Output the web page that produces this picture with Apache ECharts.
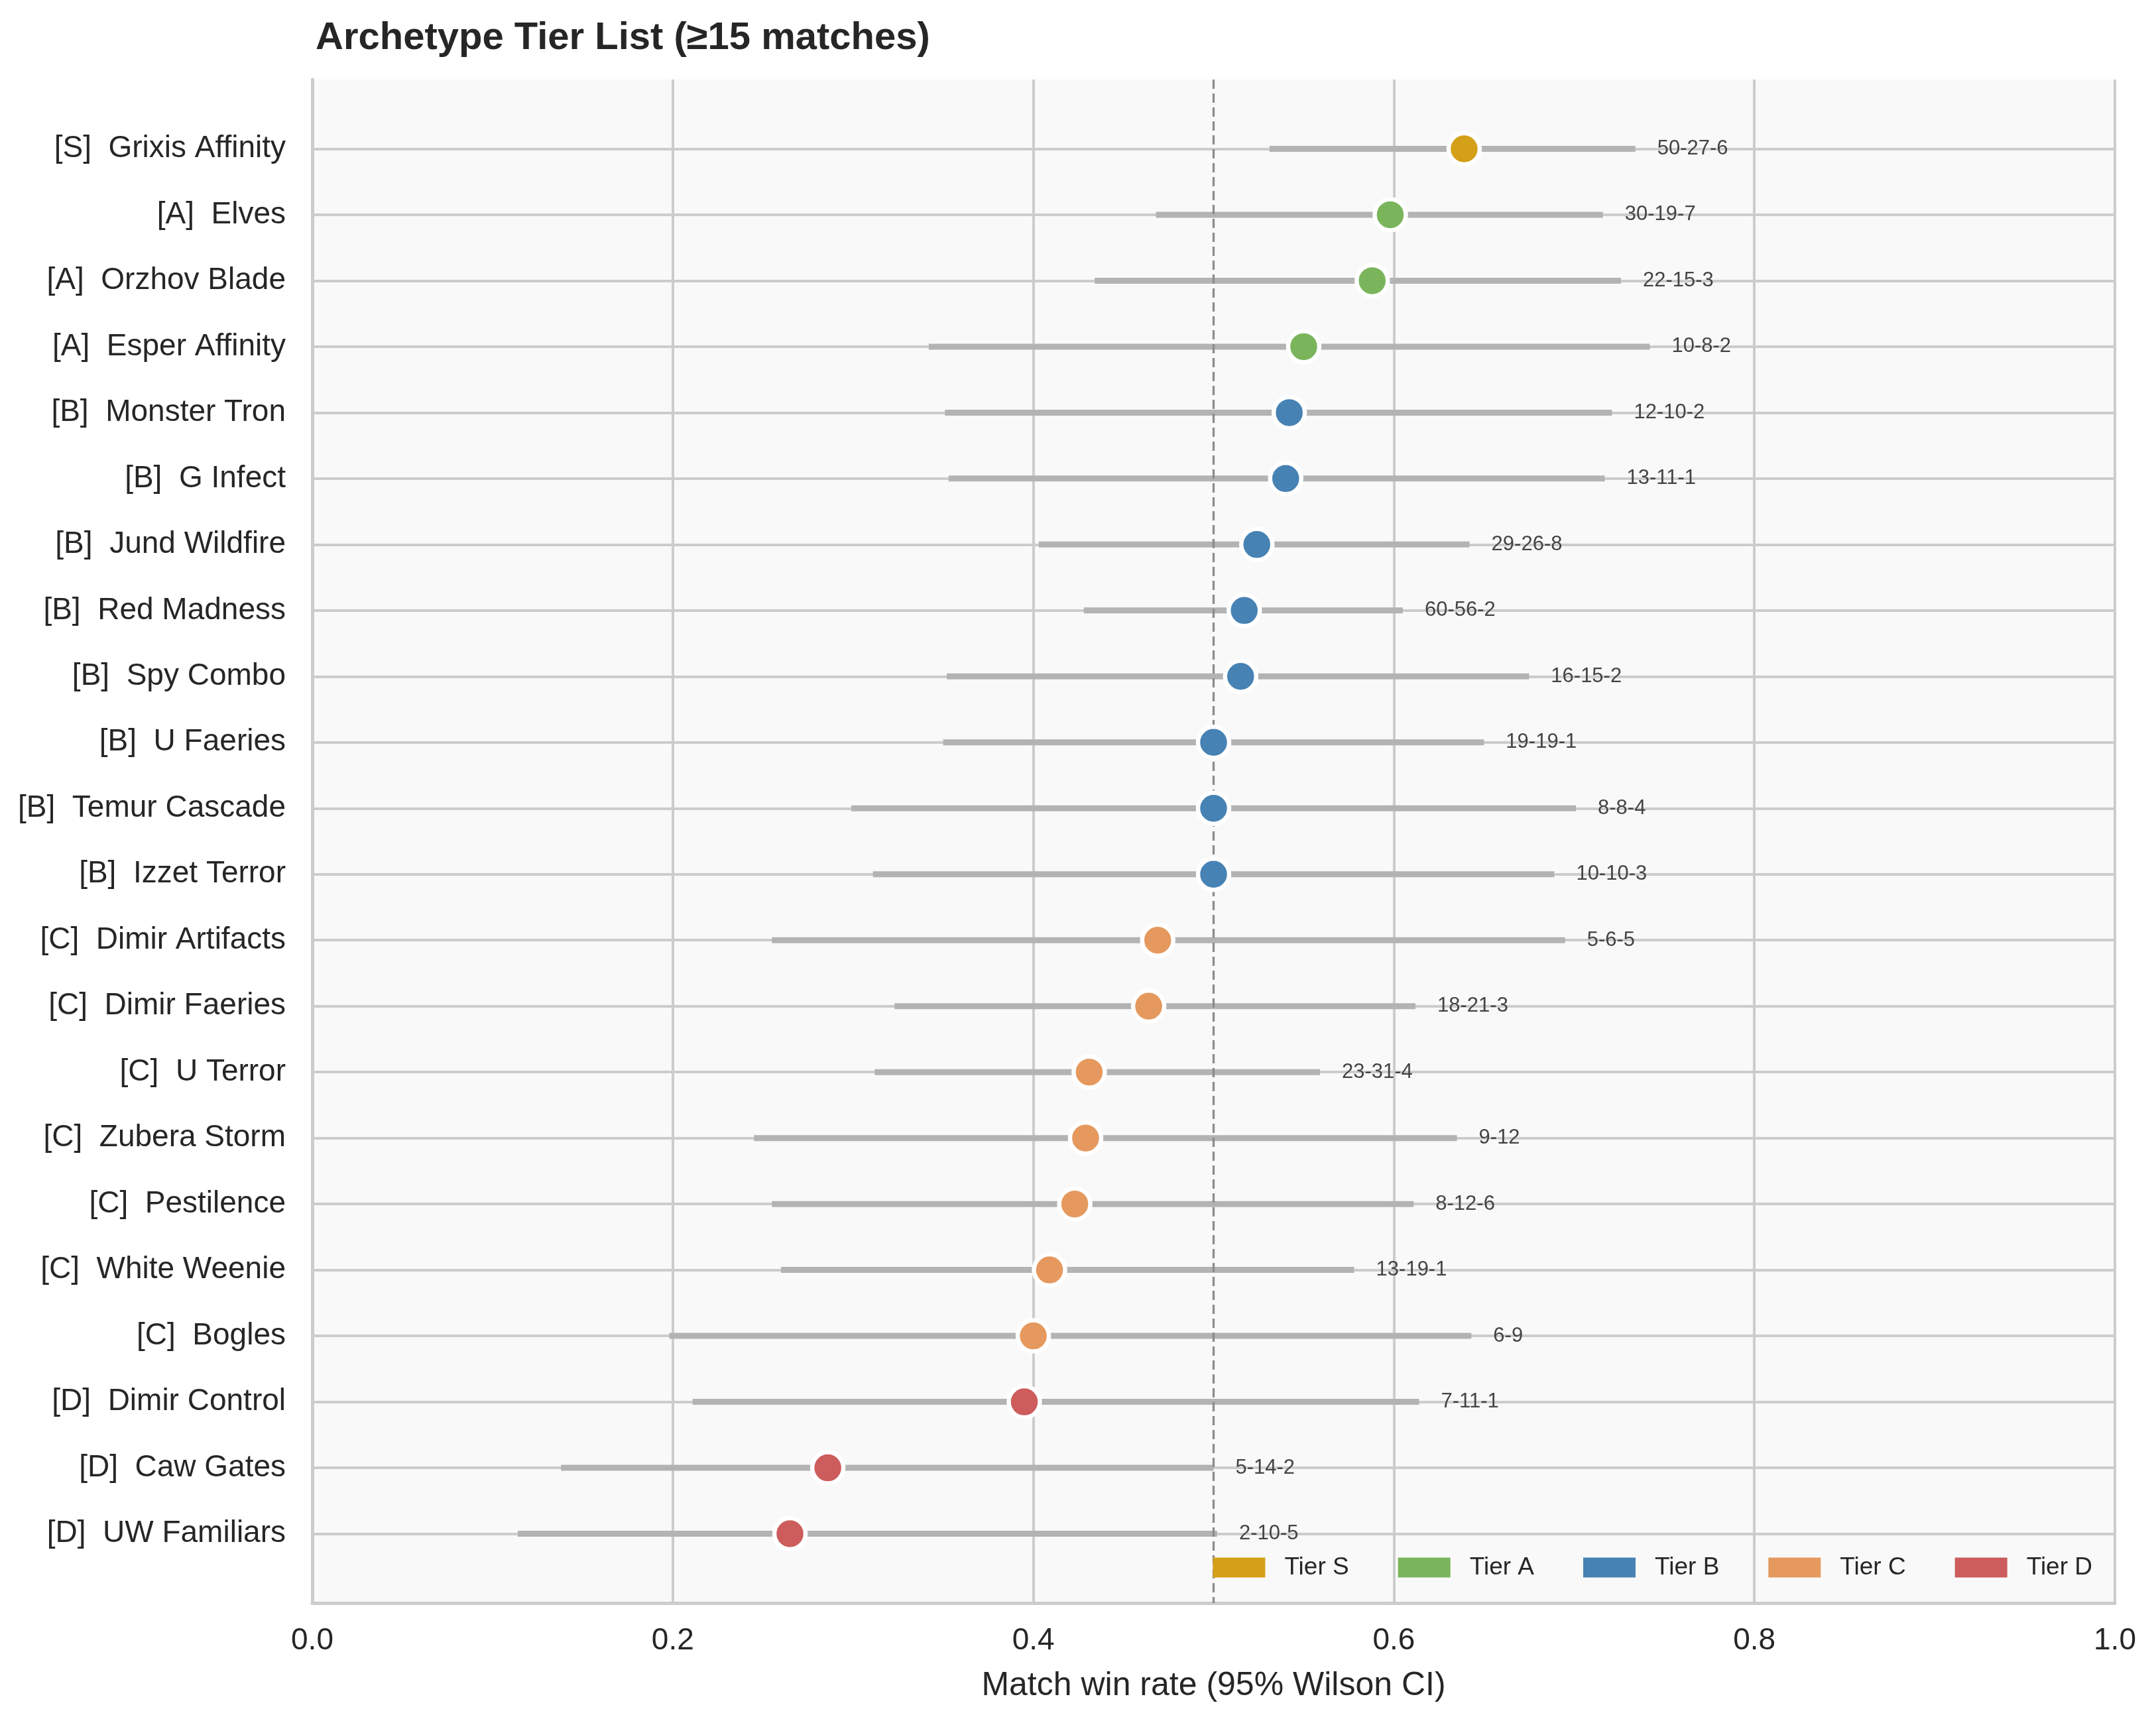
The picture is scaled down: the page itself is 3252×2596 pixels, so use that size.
<!DOCTYPE html>
<html>
<head>
<meta charset="utf-8">
<title>Archetype Tier List</title>
<script src="https://cdn.jsdelivr.net/npm/echarts@6/dist/echarts.min.js"></script>
<style>
  html, body { margin: 0; padding: 0; background: #ffffff; }
  #chart { width: 3252px; height: 2596px; }
</style>
</head>
<body>
<div id="chart"></div>
<script>
  // rows top to bottom
  const archetypes = ['Grixis Affinity', 'Elves', 'Orzhov Blade', 'Esper Affinity', 'Monster Tron', 'G Infect',
    'Jund Wildfire', 'Red Madness', 'Spy Combo', 'U Faeries', 'Temur Cascade', 'Izzet Terror',
    'Dimir Artifacts', 'Dimir Faeries', 'U Terror', 'Zubera Storm', 'Pestilence', 'White Weenie',
    'Bogles', 'Dimir Control', 'Caw Gates', 'UW Familiars']
  const tiers = ['S', 'A', 'A', 'A', 'B', 'B', 'B', 'B', 'B', 'B', 'B', 'B',
    'C', 'C', 'C', 'C', 'C', 'C', 'C', 'D', 'D', 'D']
  const winRate = [0.639, 0.598, 0.588, 0.550, 0.542, 0.540, 0.524, 0.517, 0.515, 0.500, 0.500, 0.500,
    0.469, 0.464, 0.431, 0.429, 0.423, 0.409, 0.400, 0.395, 0.286, 0.265]
  const ciLow = [0.531, 0.468, 0.434, 0.342, 0.351, 0.353, 0.403, 0.428, 0.352, 0.350, 0.299, 0.311,
    0.255, 0.323, 0.312, 0.245, 0.255, 0.260, 0.198, 0.211, 0.138, 0.114]
  const ciHigh = [0.734, 0.716, 0.726, 0.742, 0.721, 0.717, 0.642, 0.605, 0.675, 0.650, 0.701, 0.689,
    0.695, 0.612, 0.559, 0.635, 0.611, 0.578, 0.643, 0.614, 0.500, 0.502]
  const records = ['50-27-6', '30-19-7', '22-15-3', '10-8-2', '12-10-2', '13-11-1', '29-26-8', '60-56-2',
    '16-15-2', '19-19-1', '8-8-4', '10-10-3', '5-6-5', '18-21-3', '23-31-4', '9-12', '8-12-6',
    '13-19-1', '6-9', '7-11-1', '5-14-2', '2-10-5']
  const tierNames = ['S', 'A', 'B', 'C', 'D']
  const tierColors = {S: '#d4a017', A: '#7ab55c', B: '#4682b4', C: '#e5995e', D: '#cd5c5c'}
  const xTicks = [0, 0.2, 0.4, 0.6, 0.8, 1.0]

  const font = "'Liberation Sans', Arial, Helvetica, sans-serif"
  const rowIdx = archetypes.map((_, i) => i)
  const rowLabels = archetypes.map((n, i) => '[' + tiers[i] + ']  ' + n)

  const ciData = archetypes.map((_, i) => [ciLow[i], ciHigh[i], i, records[i]])

  const tierSeries = tierNames.map(t => ({
    name: 'Tier ' + t,
    type: 'scatter',
    z: 5,
    symbol: 'circle',
    symbolSize: 47,
    itemStyle: {color: tierColors[t], borderColor: '#ffffff', borderWidth: 6.5, opacity: 1},
    data: rowIdx.filter(i => tiers[i] === t).map(i => [winRate[i], i])
  }))

  const chart = echarts.init(document.getElementById('chart'))
  chart.setOption({
    animation: false,
    backgroundColor: '#ffffff',
    textStyle: {fontFamily: font},
    title: {
      text: 'Archetype Tier List (≥15 matches)',
      left: 471,
      top: 24,
      textStyle: {fontSize: 58, fontWeight: 'bold', color: '#262626', fontFamily: font}
    },
    legend: {
      data: tierNames.map(t => 'Tier ' + t),
      right: 96,
      top: 2346,
      padding: 0,
      itemWidth: 79,
      itemHeight: 30,
      itemGap: 74,
      icon: 'rect',
      itemStyle: {borderWidth: 0},
      textStyle: {fontSize: 37, color: '#262626', fontFamily: font, padding: [0, 0, 0, 24]}
    },
    grid: {
      left: 471,
      right: 62,
      top: 120,
      bottom: 178,
      show: true,
      backgroundColor: '#f9f9f9',
      borderWidth: 0
    },
    xAxis: {
      type: 'value',
      min: 0,
      max: 1,
      interval: 0.2,
      name: 'Match win rate (95% Wilson CI)',
      nameLocation: 'middle',
      nameGap: 100,
      nameTextStyle: {fontSize: 50, color: '#262626', fontFamily: font},
      axisLine: {show: true, onZero: false, lineStyle: {color: '#cccccc', width: 5}},
      axisTick: {show: false},
      axisLabel: {
        fontSize: 46, color: '#262626', margin: 34, fontFamily: font,
        formatter: v => v.toFixed(1)
      },
      splitLine: {show: true, lineStyle: {color: '#cccccc', width: 4}}
    },
    yAxis: {
      type: 'value',
      inverse: true,
      min: -1.05,
      max: 22.05,
      axisLine: {show: true, onZero: false, lineStyle: {color: '#cccccc', width: 5}},
      axisTick: {show: false, customValues: rowIdx},
      axisLabel: {
        customValues: rowIdx,
        fontSize: 46, color: '#262626', margin: 40, fontFamily: font,
        formatter: v => rowLabels[Math.round(v)] || ''
      },
      splitLine: {show: true, lineStyle: {color: '#cccccc', width: 4}}
    },
    series: [
      {
        name: 'ci',
        type: 'custom',
        z: 2,
        silent: true,
        encode: {x: [0, 1], y: 2},
        data: ciData,
        renderItem: function (params, api) {
          const a = api.coord([api.value(0), api.value(2)])
          const b = api.coord([api.value(1), api.value(2)])
          return {
            type: 'group',
            children: [
              {
                type: 'line',
                shape: {x1: a[0], y1: a[1], x2: b[0], y2: b[1]},
                style: {stroke: '#b3b3b3', lineWidth: 9, lineCap: 'butt'}
              },
              {
                type: 'text',
                x: b[0] + 33,
                y: b[1],
                style: {
                  text: records[params.dataIndex],
                  fill: '#444444',
                  font: '31px ' + font,
                  textAlign: 'left',
                  textVerticalAlign: 'middle'
                }
              }
            ]
          }
        }
      },
      {
        name: 'even',
        type: 'line',
        z: 3,
        silent: true,
        symbol: 'none',
        lineStyle: {color: '#8c8c8c', width: 3.3, type: [14, 7]},
        data: [[0.5, -1.05], [0.5, 22.05]]
      }
    ].concat(tierSeries)
  })
</script>
</body>
</html>
